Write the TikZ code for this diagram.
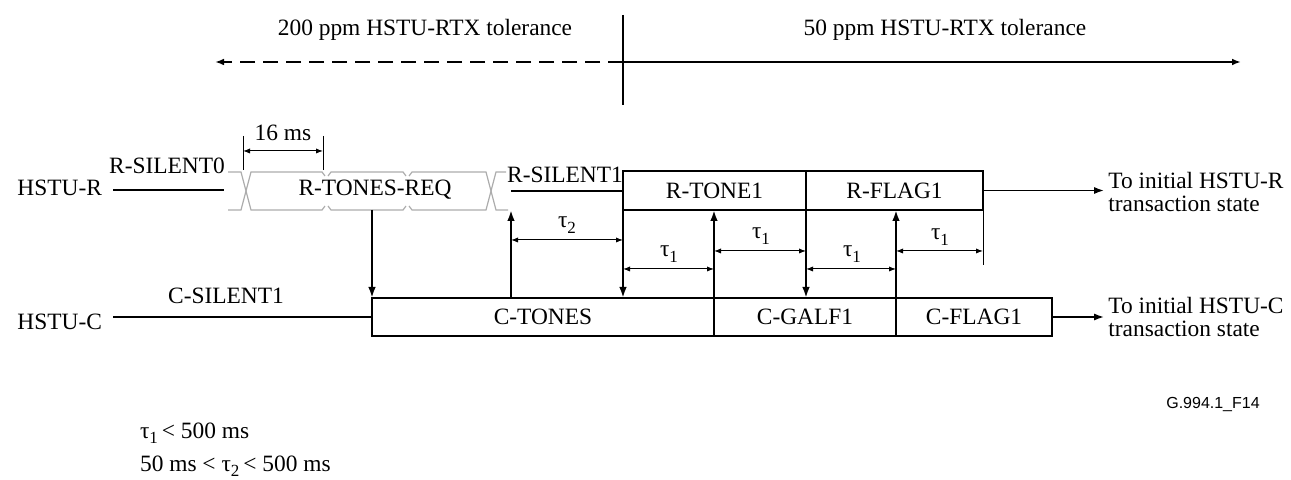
\documentclass[tikz,border=0pt]{standalone}
\usepackage{fontspec}
\setmainfont{Liberation Serif}
\newfontfamily\figlabel{Liberation Sans}
\usetikzlibrary{arrows.meta,positioning}
\newcommand{\tauix}[1]{τ\raisebox{-.5ex}{\fontsize{8.5}{9}\selectfont #1}}

\begin{document}
\begin{tikzpicture}[x=0.5pt,y=-0.5pt,
  font=\fontsize{11.7}{11.5}\selectfont,
  cell/.style={draw, line width=1.2pt, inner sep=0pt, outer sep=0pt, minimum height=19.5pt},
  bus/.style={line width=1.2pt},
  sig/.style={line width=1.1pt, -{Latex[length=5.5pt,width=3.8pt]}},
  dur/.style={line width=0.5pt, {Latex[length=3.5pt,width=2.6pt]}-{Latex[length=3.5pt,width=2.6pt]}},
  req/.style={gray!65, line width=0.6pt},
  tol/.style={line width=0.9pt, -{Latex[length=4.5pt,width=3.4pt]}},
  exit/.style={line width=0.8pt, -{Latex[length=5pt,width=3.6pt]}}]
\useasboundingbox (0,0) rectangle (1291,480);

% tolerance split
\coordinate (splittop) at (623,15);
\coordinate (splitbot) at (623,105);
\coordinate (split) at (623,62);
\coordinate (tolleft) at (215,62);
\coordinate (tolright) at (1241,62);
\draw[line width=0.7pt] (splittop) -- (splitbot);
\draw[tol, dash pattern=on 7.5pt off 4pt] (split) -- (tolleft);
\draw[tol] (split) -- (tolright);
\node (tolwide) at (425,30) {200 ppm HSTU-RTX tolerance};
\node (tolnarrow) at (945,30) {50 ppm HSTU-RTX tolerance};

% HSTU-R side
\node[anchor=east] (hstur) at (109,188) {HSTU-R};
\coordinate (rsilA) at (113,190);
\coordinate (rsilB) at (224,190);
\draw[bus] (rsilA) -- (rsilB);
\node (rsil0) at (167,166) {R-SILENT0};
\draw[req] (228,172) -- (241,172) -- (251,210) -- (322,210) -- (325,206);
\draw[req] (228,210) -- (241,210) -- (251,172) -- (322,172) -- (325,176);
\draw[req] (328,176) -- (331,172) -- (403,172) -- (406,176);
\draw[req] (328,206) -- (331,210) -- (403,210) -- (406,206);
\draw[req] (409,176) -- (412,172) -- (486,172) -- (496,210) -- (508,210);
\draw[req] (409,206) -- (412,210) -- (486,210) -- (496,172) -- (506,172);
\node (rtonesreq) at (375,190) {R-TONES-REQ};
\coordinate (cellL) at (243,136);
\coordinate (cellR) at (323,136);
\draw[line width=0.5pt] (cellL) -- (cellL |- 0,170);
\draw[line width=0.5pt] (cellR) -- (cellR |- 0,170);
\draw[dur] (cellL |- 0,151) -- (cellR |- 0,151);
\node (cellms) at (283,133) {16 ms};

\node[cell, minimum width=91.5pt] (rtone) at (714.5,190.5) {R-TONE1};
\node[cell, minimum width=88.5pt, right=0pt of rtone] (rflag) {R-FLAG1};
\coordinate (rsil1) at (511,191);
\draw[bus] (rsil1) -- (rsil1 -| rtone.west);
\node (rsil1txt) at (565,175) {R-SILENT1};

% HSTU-C side
\node[anchor=east] (hstuc) at (109,322) {HSTU-C};
\node[cell, minimum width=171pt, minimum height=19pt] (ctones) at (543,317) {C-TONES};
\node[cell, minimum width=91pt, minimum height=19pt, right=0pt of ctones] (cgalf) {C-GALF1};
\node[cell, minimum width=78pt, minimum height=19pt, right=0pt of cgalf] (cflag) {C-FLAG1};
\coordinate (csilA) at (113,317);
\draw[bus] (csilA) -- (ctones.west);
\node (csil1) at (226,296) {C-SILENT1};

% handshake
\coordinate (reqdrop) at (372,210);
\draw[sig] (reqdrop) -- (ctones.north west);
\draw[sig] (rsil1 |- ctones.north) -- (rsil1 |- 0,210);
\draw[sig] (rtone.south west) -- (rtone.south west |- ctones.north);
\draw[sig] (cgalf.north west) -- (cgalf.north west |- rtone.south);
\draw[sig] (rflag.south west) -- (rflag.south west |- cgalf.north);
\draw[sig] (cflag.north west) -- (cflag.north west |- rflag.south);
\draw[line width=0.5pt] (rflag.south east) -- (rflag.south east |- 0,265);

% timings
\coordinate (lowlvl) at (0,269);
\coordinate (highlvl) at (0,251);
\draw[dur] (rsil1 |- 0,240) -- (rtone.south west |- 0,240);
\node (tau2) at (567,225) {\tauix{2}};
\draw[dur] (rtone.south west |- lowlvl) -- (cgalf.north west |- lowlvl);
\node (tauA) at (669,254) {\tauix{1}};
\draw[dur] (cgalf.north west |- highlvl) -- (rflag.south west |- highlvl);
\node (tauB) at (761,236) {\tauix{1}};
\draw[dur] (rflag.south west |- lowlvl) -- (cflag.north west |- lowlvl);
\node (tauC) at (852,254) {\tauix{1}};
\draw[dur] (cflag.north west |- highlvl) -- (rflag.south east |- highlvl);
\node (tauD) at (940,237) {\tauix{1}};

% to next state
\node[anchor=west, align=left, inner sep=2pt] (rnext) at (1104,192) {To initial HSTU-R\\transaction state};
\node[anchor=west, align=left, inner sep=2pt] (cnext) at (1104,317) {To initial HSTU-C\\transaction state};
\draw[exit] (rflag.east) -- (rflag.east -| rnext.west);
\draw[exit] (cflag.east) -- (cflag.east -| cnext.west);

% limits
\node[anchor=west] (limit1) at (133,433) {\tauix{1}\,< 500 ms};
\node[anchor=west] (limit2) at (133,466) {50 ms < \tauix{2}\,< 500 ms};
\node[font=\figlabel\fontsize{8}{9}\selectfont] (figid) at (1213,405) {G.994.1\_F14};
\end{tikzpicture}
\end{document}
